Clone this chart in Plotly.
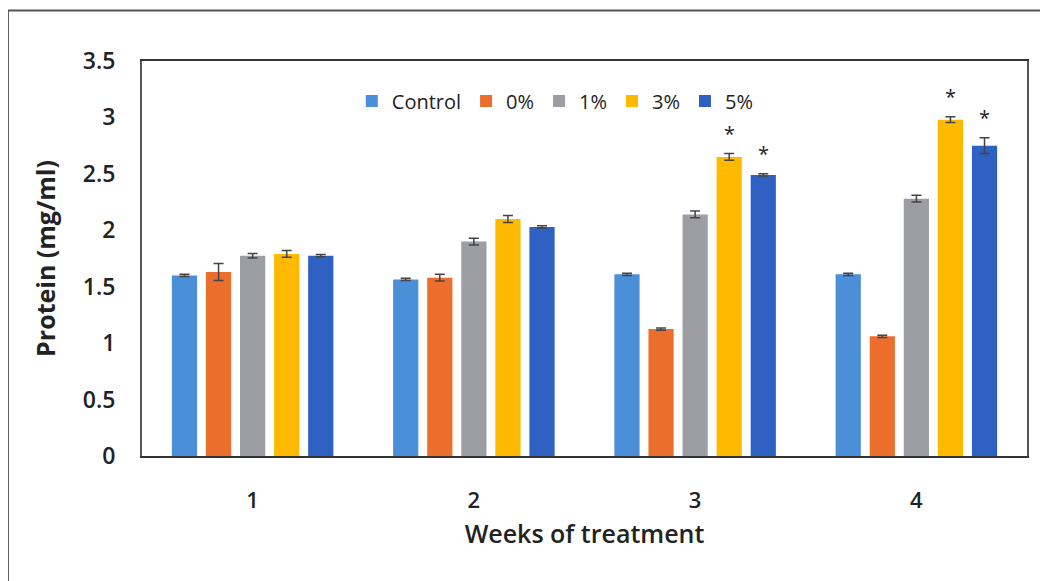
import plotly.graph_objects as go

weeks = ["1", "2", "3", "4"]
series_names = ["Control", "0%", "1%", "3%", "5%"]
control = [1.60, 1.565, 1.61, 1.61]
p0 = [1.63, 1.58, 1.125, 1.06]
p1 = [1.775, 1.90, 2.14, 2.28]
p3 = [1.79, 2.10, 2.65, 2.98]
p5 = [1.775, 2.03, 2.49, 2.75]
err_control = [0.01, 0.01, 0.01, 0.01]
err_p0 = [0.075, 0.03, 0.01, 0.01]
err_p1 = [0.02, 0.03, 0.03, 0.03]
err_p3 = [0.03, 0.03, 0.03, 0.025]
err_p5 = [0.01, 0.01, 0.01, 0.07]
colors = ["#4A8FD8", "#EC6E2C", "#9D9DA4", "#FFBA00", "#2F61C3"]
# asterisks: (week index, series index)
stars = [(2, 3), (2, 4), (3, 3), (3, 4)]

values = [control, p0, p1, p3, p5]
errors = [err_control, err_p0, err_p1, err_p3, err_p5]

fig = go.Figure()
for name, vals, errs, col in zip(series_names, values, errors, colors):
    fig.add_trace(go.Bar(
        x=weeks, y=vals, name=name, marker=dict(color=col, line=dict(width=0)),
        error_y=dict(type="data", array=errs, visible=True, color="#444444",
                     thickness=1.5, width=5),
    ))

font_family = "Open Sans, Noto Sans, sans-serif"
slot_px = 34
for wi, si in stars:
    v = values[si][wi] + errors[si][wi]
    fig.add_annotation(x=wi, y=v, yref="y", xref="x", text="*",
                       showarrow=False, yanchor="bottom", yshift=5,
                       xshift=(si - 2) * slot_px,
                       font=dict(size=20, color="#222222", family=font_family))

# outer border of the figure panel (page body has an 8px offset)
fig.add_shape(type="rect", xref="paper", yref="paper",
              x0=-0.1515, x1=1.05, y0=-0.35, y1=1.128,
              line=dict(color="#555555", width=2), fillcolor="rgba(0,0,0,0)")

fig.update_layout(
    width=1048, height=581,
    margin=dict(l=134, r=29, t=53, b=133),
    paper_bgcolor="white", plot_bgcolor="white",
    barmode="group", bargap=0.23, bargroupgap=0.26,
    font=dict(family=font_family, color="#222222"),
    legend=dict(orientation="h", x=0.467, xanchor="center", y=0.899, yanchor="middle",
                font=dict(size=20, color="#222222"), bgcolor="rgba(0,0,0,0)",
                itemwidth=30, tracegroupgap=0),
    showlegend=True,
)
fig.update_xaxes(
    type="category", range=[-0.5, 3.5],
    showline=True, linecolor="#333333", linewidth=2, mirror=True,
    ticks="", tickfont=dict(size=22, color="#222222", weight=600), ticklabelstandoff=24,
    title=dict(text="Weeks of treatment", font=dict(size=25, color="#222222", weight=600), standoff=12),
)
fig.update_yaxes(
    range=[0, 3.5], dtick=0.5, showgrid=False, zeroline=False,
    showline=True, linecolor="#555555", linewidth=2, mirror=True,
    ticks="", tickfont=dict(size=23, color="#222222", weight=600), ticklabelstandoff=20,
    tickvals=[0, 0.5, 1, 1.5, 2, 2.5, 3, 3.5],
    ticktext=["0", "0.5", "1", "1.5", "2", "2.5", "3", "3.5"],
    title=dict(text="Protein (mg/ml)", font=dict(size=25, color="#222222", weight=700), standoff=20),
)

fig.write_html("out.html")
